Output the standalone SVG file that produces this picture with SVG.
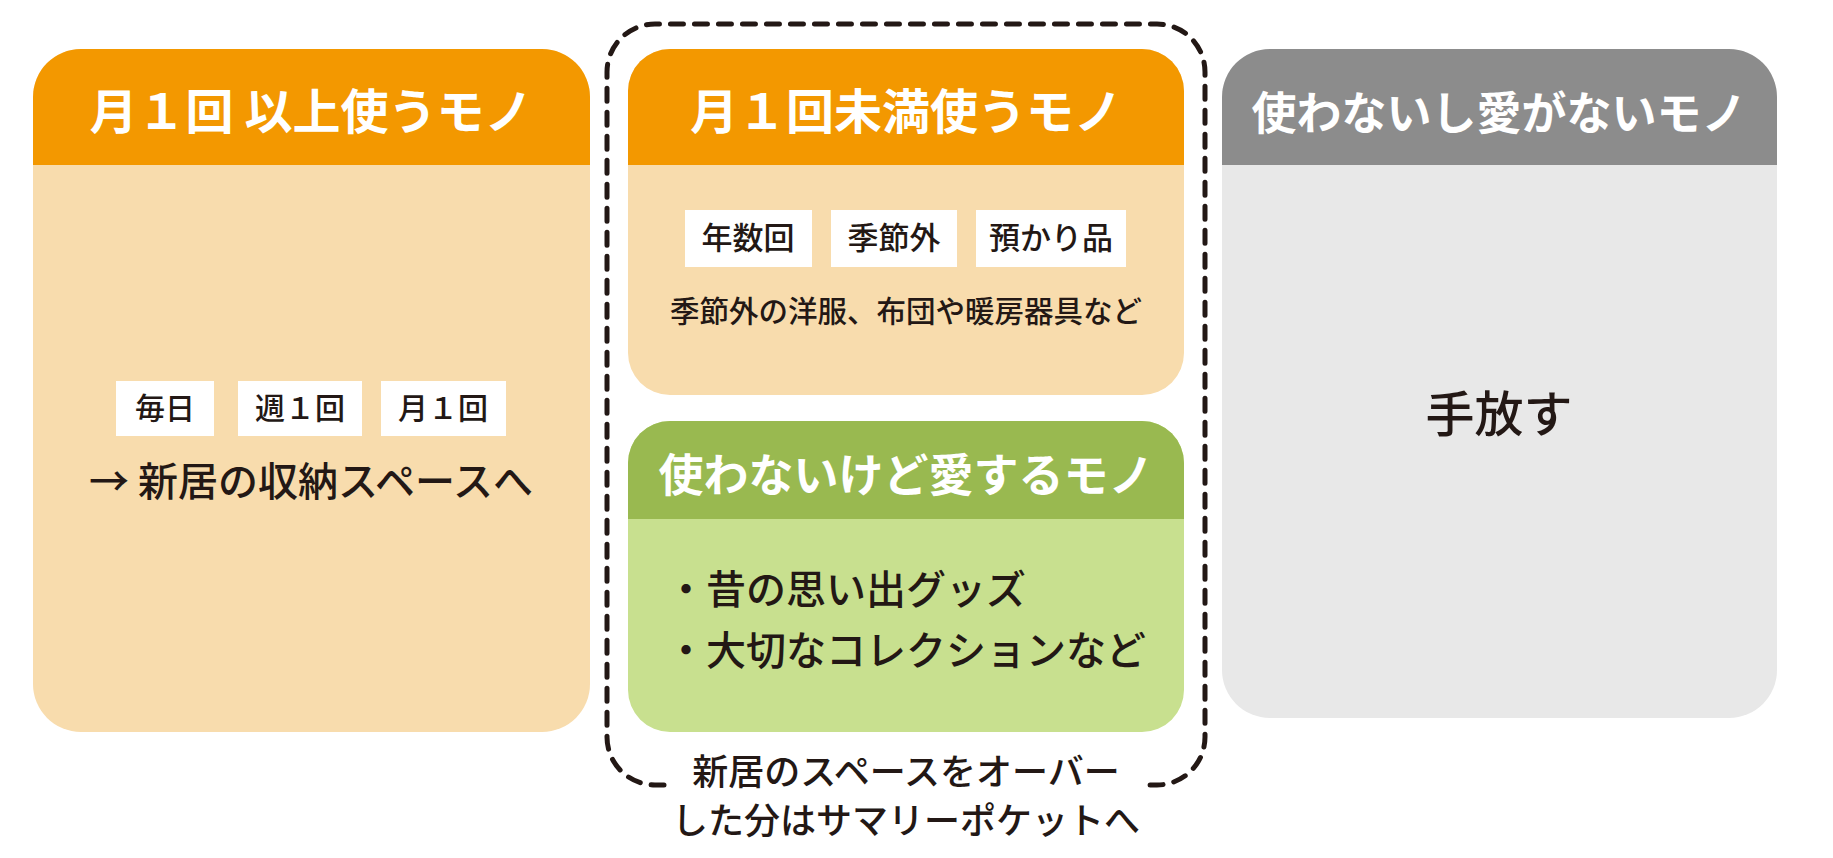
<svg xmlns="http://www.w3.org/2000/svg" width="1833" height="858" viewBox="0 0 1833 858">
<style>
.h{font-family:"Noto Sans CJK JP","Noto Sans",sans-serif;font-weight:700;fill:#fff;text-anchor:middle;}
.b{font-family:"Noto Sans CJK JP","Noto Sans",sans-serif;font-weight:500;fill:#231815;text-anchor:middle;}
.bl{font-family:"Noto Sans CJK JP","Noto Sans",sans-serif;font-weight:500;fill:#231815;text-anchor:start;}
.tag{fill:#fff;}
</style>
<defs>
<clipPath id="cL"><rect x="33" y="49" width="557" height="683" rx="48"/></clipPath>
<clipPath id="cM"><rect x="628" y="49" width="556" height="346" rx="42"/></clipPath>
<clipPath id="cG"><rect x="628" y="421" width="556" height="311" rx="42"/></clipPath>
<clipPath id="cR"><rect x="1222" y="49" width="555" height="669" rx="48"/></clipPath>
</defs>
<rect width="1833" height="858" fill="#fff"/>

<g id="node-left">
<g clip-path="url(#cL)">
<rect x="33" y="49" width="557" height="683" fill="#f8dcad"/>
<rect x="33" y="49" width="557" height="116" fill="#f39800"/>
</g>
<text class="h" x="311" y="129" font-size="48">月１回 以上使うモノ</text>
<rect class="tag" x="116" y="381" width="98" height="55"/>
<rect class="tag" x="238" y="381" width="124" height="55"/>
<rect class="tag" x="381" y="381" width="125" height="55"/>
<text class="b" x="165" y="419" font-size="30">毎日</text>
<text class="b" x="300" y="419" font-size="30">週１回</text>
<text class="b" x="443" y="419" font-size="30">月１回</text>
<text class="b" x="311" y="496" font-size="40">→ 新居の収納スペースへ</text>
</g>

<g id="node-middle-top">
<g clip-path="url(#cM)">
<rect x="628" y="49" width="556" height="346" fill="#f8dcad"/>
<rect x="628" y="49" width="556" height="116" fill="#f39800"/>
</g>
<text class="h" x="906" y="129" font-size="48">月１回未満使うモノ</text>
<rect class="tag" x="685" y="210" width="127" height="57"/>
<rect class="tag" x="831" y="210" width="126" height="57"/>
<rect class="tag" x="976" y="210" width="150" height="57"/>
<text class="b" x="748" y="249" font-size="31">年数回</text>
<text class="b" x="894" y="249" font-size="31">季節外</text>
<text class="b" x="1051" y="249" font-size="31">預かり品</text>
<text class="b" x="906" y="322" font-size="29.5">季節外の洋服、布団や暖房器具など</text>
</g>

<g id="node-middle-green">
<g clip-path="url(#cG)">
<rect x="628" y="421" width="556" height="311" fill="#c8e08f"/>
<rect x="628" y="421" width="556" height="98" fill="#99b950"/>
</g>
<text class="h" x="906" y="492" font-size="45">使わないけど愛するモノ</text>
<text class="bl" x="666" y="604" font-size="40">・昔の思い出グッズ</text>
<text class="bl" x="666" y="665" font-size="40">・大切なコレクションなど</text>
</g>

<g id="node-right">
<g clip-path="url(#cR)">
<rect x="1222" y="49" width="555" height="669" fill="#e8e8e8"/>
<rect x="1222" y="49" width="555" height="116" fill="#8c8c8c"/>
</g>
<text class="h" x="1499" y="130" font-size="45">使わないし愛がないモノ</text>
<text class="b" x="1499" y="432" font-size="49">手放す</text>
</g>

<g id="connectors">
<path d="M 664,785 H 655 A 48 48 0 0 1 607,737 V 72 A 48 48 0 0 1 655,24 H 1157 A 48 48 0 0 1 1205,72 V 737 A 48 48 0 0 1 1157,785 H 1148" fill="none" stroke="#231815" stroke-width="5" stroke-dasharray="13 11" stroke-linecap="round"/>
</g>

<g id="caption">
<text class="b" x="906" y="785" font-size="36">新居のスペースをオーバー</text>
<text class="b" x="906" y="834" font-size="36">した分はサマリーポケットへ</text>
</g>
</svg>
